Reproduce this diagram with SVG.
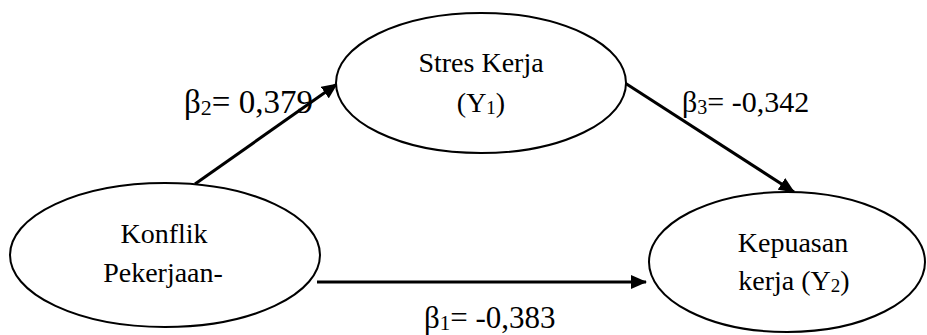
<svg xmlns="http://www.w3.org/2000/svg" width="927" height="335" viewBox="0 0 927 335">
<style>
.node{fill:#fff;stroke:#000;stroke-width:2}
.t{font-family:"Liberation Serif","Times New Roman",serif;font-size:28px;fill:#000}
.c{text-anchor:middle}
.sub{font-size:19px}
.lab{font-family:"Liberation Serif","Times New Roman",serif;fill:#000}
.edge{stroke:#000;stroke-width:3;fill:none}
</style>
<defs>
<marker id="ah" markerWidth="16" markerHeight="14" refX="15" refY="7" orient="auto" markerUnits="userSpaceOnUse">
<path d="M0,0 L16,7 L0,14 Z" fill="#000"/>
</marker>
</defs>
<g id="connectors">
<line class="edge" x1="195" y1="184" x2="337" y2="84" marker-end="url(#ah)"/>
<line class="edge" x1="625" y1="83" x2="794" y2="192" marker-end="url(#ah)"/>
<line class="edge" x1="317" y1="282" x2="646" y2="282" marker-end="url(#ah)"/>
<text class="lab" x="184" y="113" font-size="33">β<tspan font-size="22" dy="2">2</tspan><tspan dy="-2">= 0,379</tspan></text>
<text class="lab" x="682" y="112" font-size="30">β<tspan font-size="20" dy="2">3</tspan><tspan dy="-2">= -0,342</tspan></text>
<text class="lab" x="424" y="328" font-size="31">β<tspan font-size="21" dy="2">1</tspan><tspan dy="-2">= -0,383</tspan></text>
</g>
<g id="konflik">
<ellipse class="node" cx="165" cy="255" rx="155" ry="72"/>
<text class="t c" x="164" y="243">Konflik</text>
<text class="t c" x="163" y="282">Pekerjaan-</text>
</g>
<g id="stres">
<ellipse class="node" cx="481" cy="83" rx="145" ry="70"/>
<text class="t c" x="481" y="72">Stres Kerja</text>
<text class="t c" x="481" y="112">(Y<tspan class="sub" dy="2">1</tspan><tspan dy="-2">)</tspan></text>
</g>
<g id="kepuasan">
<ellipse class="node" cx="787" cy="262" rx="138" ry="70"/>
<text class="t c" x="793" y="252">Kepuasan</text>
<text class="t c" x="794" y="290">kerja (Y<tspan class="sub" dy="2">2</tspan><tspan dy="-2">)</tspan></text>
</g>
</svg>
